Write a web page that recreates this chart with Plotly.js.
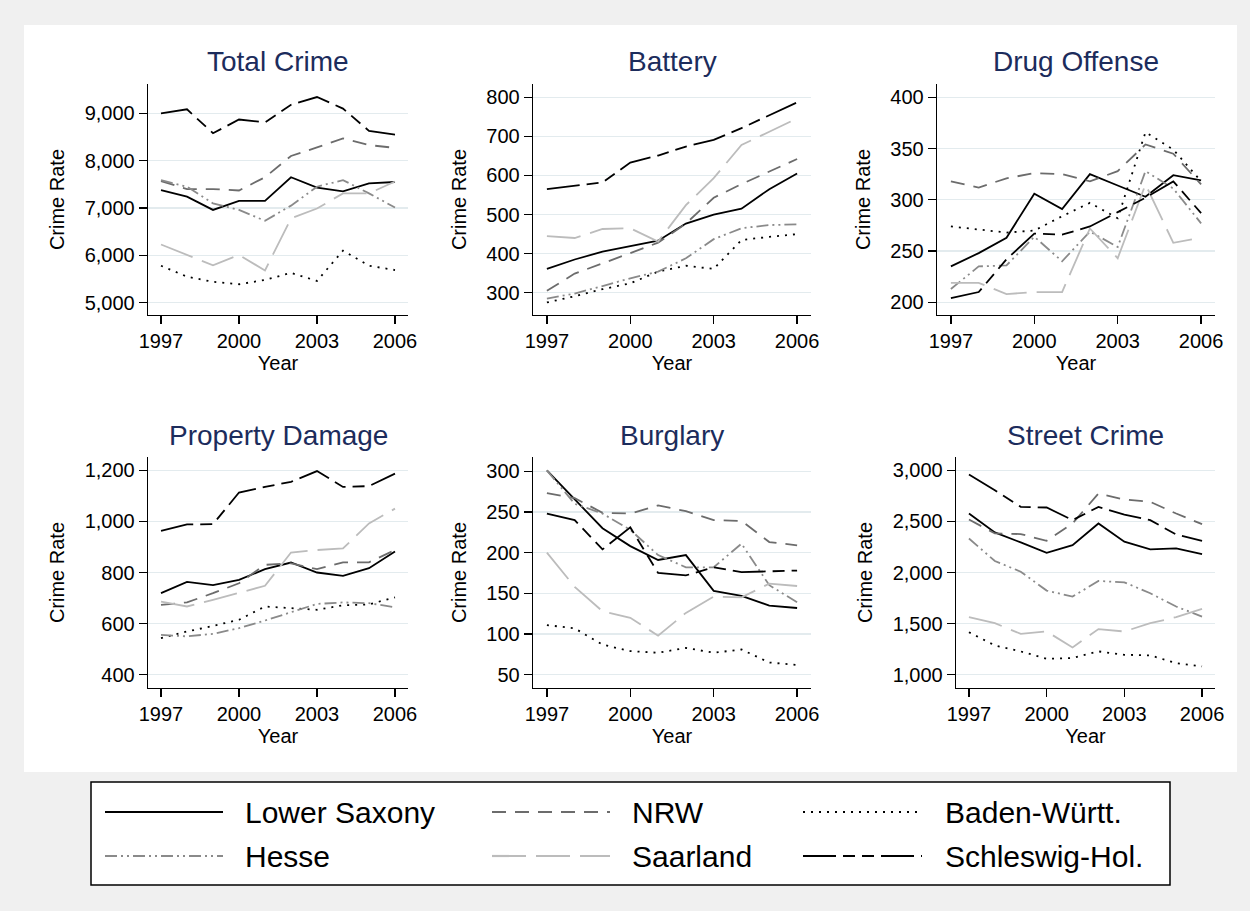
<!DOCTYPE html>
<html>
<head>
<meta charset="utf-8">
<script src="https://cdn.plot.ly/plotly-3.0.1.min.js"></script>
<style>html,body{margin:0;padding:0;background:#f0f0f0;}#chart{width:1250px;height:911px;}</style>
</head>
<body>
<div id="chart"></div>
<script>
// ---- data ----
const years = [1997, 1998, 1999, 2000, 2001, 2002, 2003, 2004, 2005, 2006];
const states = ["Lower Saxony", "NRW", "Baden-Württ.", "Hesse", "Saarland", "Schleswig-Hol."];
const panelTitles = ["Total Crime", "Battery", "Drug Offense", "Property Damage", "Burglary", "Street Crime"];
const xTickVals = [1997, 2000, 2003, 2006];

// each panel: rows in the order of `states`
const totalCrime = [
  [7380, 7240, 6960, 7150, 7150, 7650, 7430, 7350, 7520, 7550],
  [7570, 7400, 7400, 7370, 7650, 8100, 8280, 8470, 8330, 8270],
  [5780, 5550, 5440, 5390, 5480, 5630, 5460, 6100, 5780, 5690],
  [7590, 7450, 7100, 6960, 6730, 7050, 7450, 7590, 7310, 7010],
  [6230, 6010, 5790, 6010, 5680, 6780, 6990, 7310, 7310, 7560],
  [9000, 9085, 8580, 8870, 8810, 9180, 9345, 9100, 8630, 8550]
];
const battery = [
  [361, 385, 405, 419, 433, 477, 500, 515, 565, 605],
  [305, 349, 375, 401, 428, 477, 543, 578, 611, 642],
  [275, 291, 309, 324, 354, 369, 361, 435, 443, 450],
  [285, 298, 317, 337, 354, 388, 437, 465, 473, 475],
  [445, 440, 463, 465, 431, 524, 593, 678, 712, 746],
  [565, 574, 582, 633, 651, 674, 691, 721, 755, 787]
];
const drugOffense = [
  [235, 248, 263, 306, 291, 325, 314, 303, 324, 319],
  [318, 312, 321, 326, 325, 318, 328, 354, 345, 315],
  [274, 271, 268, 270, 284, 297, 282, 366, 349, 318],
  [213, 235, 236, 264, 240, 269, 254, 328, 311, 277],
  [219, 219, 208, 210, 210, 272, 243, 315, 258, 263],
  [204, 210, 242, 267, 266, 274, 288, 302, 318, 287]
];
const propertyDamage = [
  [719, 763, 751, 771, 813, 839, 800, 787, 817, 882],
  [673, 683, 719, 758, 830, 836, 813, 840, 840, 888],
  [543, 569, 591, 615, 667, 661, 654, 672, 675, 703],
  [556, 550, 560, 582, 612, 643, 677, 683, 680, 664],
  [686, 667, 693, 719, 748, 878, 888, 894, 992, 1050],
  [963, 988, 989, 1113, 1135, 1155, 1197, 1135, 1138, 1187]
];
const burglary = [
  [301, 265, 230, 208, 191, 197, 153, 147, 135, 132],
  [273, 267, 249, 248, 258, 251, 240, 239, 213, 209],
  [111, 107, 87, 79, 77, 83, 77, 81, 65, 62],
  [301, 260, 248, 228, 197, 182, 182, 211, 160, 139],
  [200, 158, 128, 120, 98, 126, 146, 145, 162, 159],
  [248, 240, 204, 231, 175, 172, 182, 176, 177, 178]
];
const streetCrime = [
  [2577, 2392, 2294, 2193, 2268, 2480, 2301, 2226, 2236, 2180],
  [2519, 2382, 2376, 2310, 2480, 2772, 2714, 2691, 2577, 2473],
  [1416, 1286, 1228, 1156, 1163, 1228, 1195, 1189, 1114, 1081],
  [2333, 2112, 2008, 1823, 1764, 1917, 1904, 1797, 1667, 1569],
  [1563, 1504, 1400, 1423, 1267, 1446, 1423, 1504, 1563, 1644],
  [2958, 2805, 2642, 2636, 2512, 2642, 2567, 2512, 2372, 2310]
];
const yTickVals = [
  [5000, 6000, 7000, 8000, 9000],
  [300, 400, 500, 600, 700, 800],
  [200, 250, 300, 350, 400],
  [400, 600, 800, 1000, 1200],
  [50, 100, 150, 200, 250, 300],
  [1000, 1500, 2000, 2500, 3000]
];
const yRanges = [
  [4740, 9620],
  [243, 834],
  [187.6, 413],
  [348, 1252],
  [33.7, 317.5],
  [870, 3130]
];
const panelData = [totalCrime, battery, drugOffense, propertyDamage, burglary, streetCrime];

// ---- styles ----
const W = 1250, H = 911;
const FONT = "Liberation Sans, Arial, Helvetica, sans-serif";
const lineStyles = [
  {color: "#000000", dash: "solid", width: 1.8},
  {color: "#6c6c6c", dash: "14px,9px", width: 1.8},
  {color: "#000000", dash: "2px,6px", width: 1.8},
  {color: "#8a8a8a", dash: "12px,4px,2px,4px,2px,4px", width: 1.8},
  {color: "#bcbcbc", dash: "34px,10px", width: 1.8},
  {color: "#000000", dash: "33px,7px,12px,7px,12px,7px", width: 1.8}
];
// plot-area boxes in pixels [left, right, top, bottom]
const boxes = [
  [148, 408, 84, 315],
  [533, 811, 84, 315],
  [937, 1215, 84, 315],
  [148, 408, 457, 688],
  [533, 811, 457, 688],
  [956, 1215, 457, 688]
];
const titleY = [61, 61, 61, 435, 435, 435];

const traces = [];
const layout = {
  width: W, height: H,
  margin: {l: 0, r: 0, t: 0, b: 0},
  paper_bgcolor: "#f0f0f0",
  plot_bgcolor: "#ffffff",
  showlegend: false,
  font: {family: FONT, color: "#000000"},
  shapes: [],
  annotations: []
};

// white inner background
layout.shapes.push({type: "rect", xref: "paper", yref: "paper", layer: "below",
  x0: 24 / W, x1: 1237 / W, y0: 1 - 772 / H, y1: 1 - 25 / H,
  fillcolor: "#ffffff", line: {width: 0}});

for (let p = 0; p < 6; p++) {
  const sfx = p === 0 ? "" : String(p + 1);
  const b = boxes[p];
  for (let s = 0; s < states.length; s++) {
    traces.push({
      type: "scatter", mode: "lines",
      x: years, y: panelData[p][s],
      name: states[s],
      xaxis: "x" + sfx, yaxis: "y" + sfx,
      line: {color: lineStyles[s].color, dash: lineStyles[s].dash, width: lineStyles[s].width},
      hoverinfo: "x+y+name"
    });
  }
  layout["xaxis" + sfx] = {
    domain: [b[0] / W, b[1] / W],
    anchor: "y" + sfx,
    range: [1996.5, 2006.5],
    tickvals: xTickVals,
    ticktext: xTickVals.map(String),
    ticks: "outside", ticklen: 8, tickwidth: 1.3, tickcolor: "#000000",
    showline: true, linecolor: "#000000", linewidth: 1.3,
    showgrid: false, zeroline: false,
    tickfont: {family: FONT, size: 20, color: "#000000"},
    title: {text: "Year", font: {family: FONT, size: 20, color: "#000000"}, standoff: 0},
    automargin: false, fixedrange: true
  };
  layout["yaxis" + sfx] = {
    domain: [1 - b[3] / H, 1 - b[2] / H],
    anchor: "x" + sfx,
    range: yRanges[p],
    tickvals: yTickVals[p],
    tickformat: ",d",
    ticks: "outside", ticklen: 8, tickwidth: 1.3, tickcolor: "#000000",
    showline: true, linecolor: "#000000", linewidth: 1.3,
    showgrid: true, gridcolor: "#e3ebee", gridwidth: 1.3,
    zeroline: false,
    tickfont: {family: FONT, size: 20, color: "#000000"},
    title: {text: "Crime Rate", font: {family: FONT, size: 20, color: "#000000"}, standoff: 14},
    automargin: false, fixedrange: true
  };
  layout.annotations.push({
    text: panelTitles[p], xref: "paper", yref: "paper",
    x: (b[0] + b[1]) / 2 / W, y: 1 - titleY[p] / H,
    xanchor: "center", yanchor: "middle", showarrow: false,
    font: {family: FONT, size: 28, color: "#1c2c5c"}
  });
}

// legend box (drawn by hand to match long line samples)
layout.shapes.push({type: "rect", xref: "paper", yref: "paper",
  x0: 91 / W, x1: 1170 / W, y0: 1 - 885 / H, y1: 1 - 782 / H,
  fillcolor: "#ffffff", line: {color: "#000000", width: 1.5}});
const legCols = [[105, 223, 243], [492, 610, 630], [803, 922, 943]];
const legRows = [812, 856];
for (let s = 0; s < states.length; s++) {
  const c = legCols[s % 3], r = legRows[Math.floor(s / 3)];
  layout.shapes.push({type: "line", xref: "paper", yref: "paper",
    x0: c[0] / W, x1: c[1] / W, y0: 1 - r / H, y1: 1 - r / H,
    line: {color: lineStyles[s].color, dash: lineStyles[s].dash, width: 2.2}});
  layout.annotations.push({text: states[s], xref: "paper", yref: "paper",
    x: c[2] / W, y: 1 - r / H, xanchor: "left", yanchor: "middle", showarrow: false,
    font: {family: FONT, size: 30, color: "#000000"}});
}

Plotly.newPlot("chart", traces, layout, {displayModeBar: false, staticPlot: true});
</script>
</body>
</html>
